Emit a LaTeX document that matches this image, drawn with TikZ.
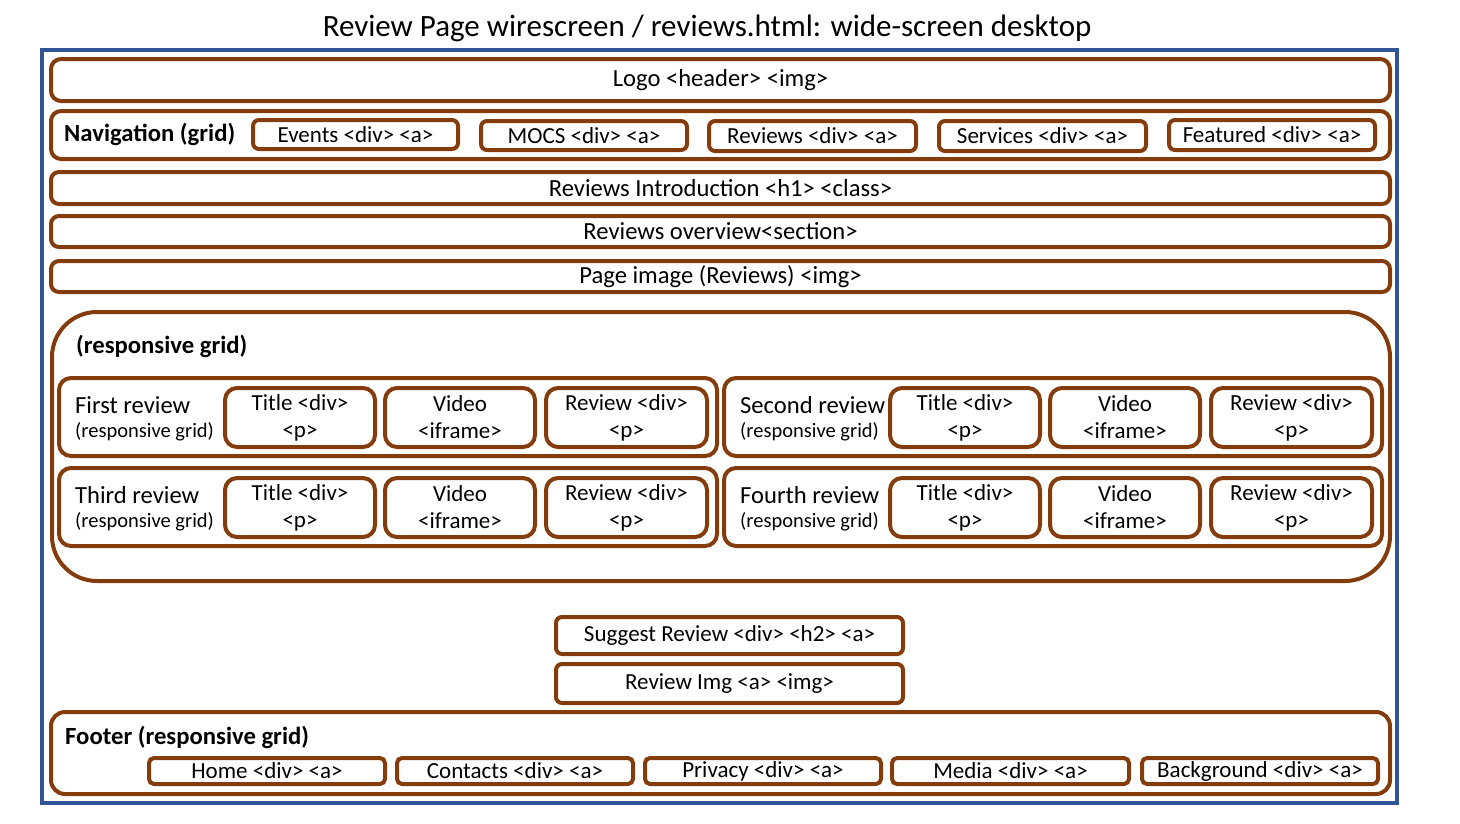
\documentclass[tikz,border=0pt]{standalone}
\usepackage{fontspec}
\setmainfont{Carlito}
\definecolor{brown}{HTML}{843C0C}
\definecolor{frameblue}{HTML}{2F5597}
\newcommand{\bx}[7][10]{%
  \pgfmathsetmacro{\cxx}{(#3+#5)/2}\pgfmathsetmacro{\cyy}{(#4+#6)/2}%
  \pgfmathsetmacro{\ww}{#5-#3}\pgfmathsetmacro{\hh}{#6-#4}%
  \node[wbox, rounded corners=#1pt, minimum width=\ww pt, minimum height=\hh pt] (#2) at (\cxx,\cyy) {#7};}
\begin{document}
\begin{tikzpicture}[x=1pt,y=-1pt,
  wbox/.style={draw=brown, line width=4pt, inner sep=0pt, align=center, font=\fontsize{23}{27}\selectfont},
  big/.style={font=\fontsize{24.6}{28}\selectfont},
  lbl/.style={inner sep=0pt, anchor=west, align=left},
  bold/.style={font=\fontsize{24.7}{28}\selectfont\bfseries}]
\useasboundingbox (0,0) rectangle (1460,823);
\node[font=\fontsize{31}{34}\selectfont] (title) at (707,28) {Review Page wirescreen / reviews.html: wide-screen desktop};
\draw[frameblue, line width=3.5pt] (42,50) rectangle (1397,803);
\bx{logo}{51}{59}{1390}{101}{}
\node[big] (logot) at (logo) {Logo <header> <img>};
\bx{nav}{51}{111}{1390}{159}{}
\node[lbl, bold] (navl) at (64,134) {Navigation (grid)};
\bx[6]{events}{253}{120}{458}{149}{Events <div> <a>}
\bx[6]{mocs}{481}{121}{687}{150}{MOCS <div> <a>}
\bx[6]{reviews}{709}{121}{916}{151}{Reviews <div> <a>}
\bx[6]{services}{939}{121}{1146}{151}{Services <div> <a>}
\bx[6]{featured}{1169}{120}{1375}{150}{Featured <div> <a>}
\bx[8]{intro}{51}{172}{1390}{204}{}
\node[big] (introt) at (intro) {Reviews Introduction <h1> <class>};
\bx[8]{overview}{51}{216}{1390}{247}{}
\node[big] (overviewt) at (overview) {Reviews overview<section>};
\bx[8]{pageimg}{51}{261}{1390}{292}{}
\node[big] (pageimgt) at (pageimg) {Page image (Reviews) <img>};
\bx[45]{grid}{52}{312}{1390}{581}{}
\node[lbl, bold] (gridl) at (76,346) {(responsive grid)};
% reviews
\foreach \nm/\lab/\ox/\oy in {r1/First review/59/378, r2/Second review/724/378, r3/Third review/59/468, r4/Fourth review/724/468}{
  \pgfmathsetmacro{\oxe}{\ox+658}\pgfmathsetmacro{\oye}{\oy+78}
  \bx[12]{\nm}{\ox}{\oy}{\oxe}{\oye}{}
  \pgfmathsetmacro{\lx}{\ox+16}\pgfmathsetmacro{\ly}{\oy+27}\pgfmathsetmacro{\lyy}{\oy+54}
  \node[lbl, big] (\nm a) at (\lx,\ly) {\lab};
  \node[lbl, font=\fontsize{20.5}{24}\selectfont] (\nm b) at (\lx,\lyy) {(responsive grid)};
  \pgfmathsetmacro{\ta}{\ox+166}\pgfmathsetmacro{\tb}{\ox+316}
  \pgfmathsetmacro{\va}{\ox+326}\pgfmathsetmacro{\vb}{\ox+476}
  \pgfmathsetmacro{\ra}{\ox+487}\pgfmathsetmacro{\rb}{\ox+648}
  \pgfmathsetmacro{\ia}{\oy+10}\pgfmathsetmacro{\ib}{\oy+69}
  \bx[12]{\nm t}{\ta}{\ia}{\tb}{\ib}{Title <div>\\<p>}
  \bx[12]{\nm v}{\va}{\ia}{\vb}{\ib}{Video\\<iframe>}
  \bx[12]{\nm r}{\ra}{\ia}{\rb}{\ib}{Review <div>\\<p>}
}
\bx[6]{suggest}{556}{617}{903}{654}{Suggest Review <div> <h2> <a>}
\bx[6]{revimg}{556}{664}{903}{703}{Review Img <a> <img>}
\bx[14]{footer}{51}{712}{1390}{794}{}
\node[lbl, bold] (footl) at (65,737) {Footer (responsive grid)};
\bx[5]{home}{149}{758}{385}{784}{Home <div> <a>}
\bx[5]{contacts}{397}{758}{633}{784}{Contacts <div> <a>}
\bx[5]{privacy}{645}{758}{881}{784}{Privacy <div> <a>}
\bx[5]{media}{892}{758}{1129}{784}{Media <div> <a>}
\bx[5]{background}{1142}{758}{1378}{784}{Background <div> <a>}
\end{tikzpicture}
\end{document}
